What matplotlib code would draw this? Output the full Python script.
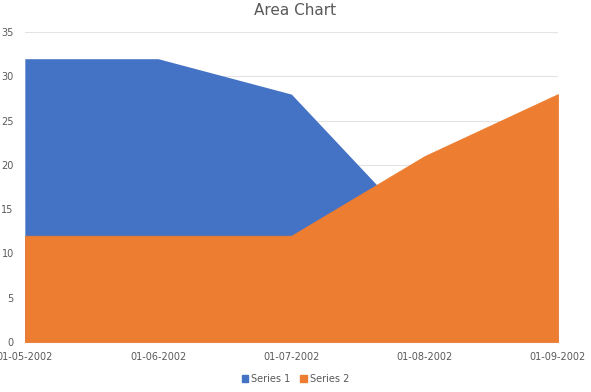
import matplotlib.pyplot as plt
from matplotlib.patches import Patch

dates = ["01-05-2002", "01-06-2002", "01-07-2002", "01-08-2002", "01-09-2002"]
series1 = [32, 32, 28, 12, 15]
series2 = [12, 12, 12, 21, 28]

blue = "#4472C4"
orange = "#ED7D31"
txt = "#595959"

fig = plt.figure(figsize=(5.91, 3.92), dpi=100)
ax = fig.add_axes([0.042, 0.1276, 0.902, 0.7904])

x = list(range(len(dates)))
ax.fill_between(x, series1, color=blue, linewidth=0, zorder=2)
ax.fill_between(x, series2, facecolor=orange, edgecolor=orange, linewidth=0.6, zorder=3)

ax.set_xlim(0, len(dates) - 1)
ax.set_ylim(0, 35)
ax.set_yticks(range(0, 36, 5))
ax.set_xticks(x)
ax.set_xticklabels(dates)
ax.grid(axis="y", color="#e3e3e3", linewidth=0.8, zorder=1)
ax.set_axisbelow(True)
for s in ["top", "right", "left"]:
    ax.spines[s].set_visible(False)
ax.spines["bottom"].set_color("#d9d9d9")
ax.tick_params(axis="both", length=0, labelsize=7, colors=txt)
ax.tick_params(axis="x", pad=7)
ax.tick_params(axis="y", pad=8)

fig.text(0.5, 0.972, "Area Chart", ha="center", va="center", fontsize=11, color=txt)

handles = [Patch(color=blue, label="Series 1"), Patch(color=orange, label="Series 2")]
fig.legend(handles=handles, loc="center", bbox_to_anchor=(0.5, 0.033), ncol=2,
           frameon=False, fontsize=7, labelcolor=txt, handlelength=0.7,
           handleheight=0.7, handletextpad=0.3, columnspacing=1.0)

fig.savefig("out.png", dpi=100)
